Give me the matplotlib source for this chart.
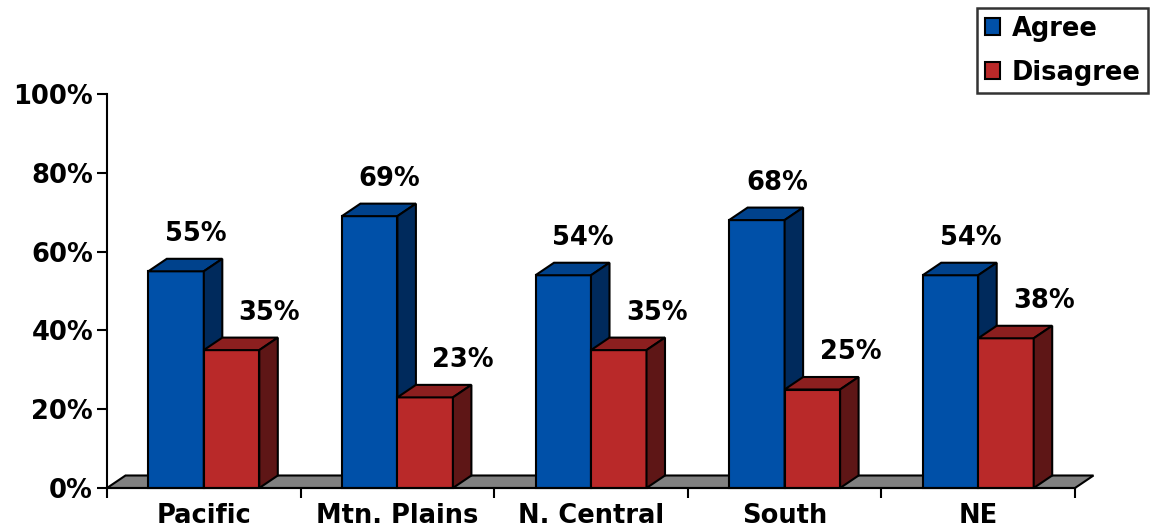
import matplotlib.pyplot as plt
from matplotlib.patches import Polygon, Patch

regions = ["Pacific", "Mtn. Plains", "N. Central", "South", "NE"]
agree = [55, 69, 54, 68, 54]
disagree = [35, 23, 35, 25, 38]
series_names = ["Agree", "Disagree"]
y_ticks = [0, 20, 40, 60, 80, 100]

# front, top, side colours for each series
COLORS = {
    "Agree": ("#0050a8", "#00428c", "#002a5c"),
    "Disagree": ("#b92929", "#8c1f1f", "#5e1616"),
}

W, H = 1151, 531
fig = plt.figure(figsize=(W / 100, H / 100), dpi=100)
ax = fig.add_axes([107 / W, (531 - 488) / H, (1075 - 107) / W, (488 - 94) / H])
ax.set_xlim(-0.5, len(regions) - 0.5)
ax.set_ylim(0, 100)

# 3d depth offset, converted from pixels to data units
px_x = (len(regions)) / (1075 - 107)
px_y = 100 / (488 - 94)
dx, dy = 18.5 * px_x, 12.5 * px_y
bw = 55.5 * px_x

font = dict(fontsize=18.5, fontweight="bold", family="DejaVu Sans")


def box(x0, x1, h, front, top, side):
    kw = dict(edgecolor="black", linewidth=1.5, clip_on=False, joinstyle="miter")
    ax.add_patch(Polygon([(x0, 0), (x1, 0), (x1, h), (x0, h)], facecolor=front, **kw))
    ax.add_patch(Polygon([(x0, h), (x1, h), (x1 + dx, h + dy), (x0 + dx, h + dy)],
                         facecolor=top, **kw))
    ax.add_patch(Polygon([(x1, 0), (x1 + dx, dy), (x1 + dx, h + dy), (x1, h)],
                         facecolor=side, **kw))


# floor
x_lo, x_hi = -0.5, len(regions) - 0.5
ax.add_patch(Polygon([(x_lo, 0), (x_hi, 0), (x_hi + dx, dy), (x_lo + dx, dy)],
                     facecolor="#808080", edgecolor="black", linewidth=1.5,
                     clip_on=False, zorder=0.5))

for i, (a, d) in enumerate(zip(agree, disagree)):
    box(i - bw, i, a, *COLORS["Agree"])
    box(i, i + bw, d, *COLORS["Disagree"])
    ax.text(i - bw / 2 + 20 * px_x, a + dy + 25 * px_y, f"{a}%", ha="center", va="center", **font)
    ax.text(i + bw / 2 + 38 * px_x, d + dy + 25 * px_y, f"{d}%", ha="center", va="center", **font)

for s in ["top", "right"]:
    ax.spines[s].set_visible(False)
ax.spines["left"].set_linewidth(1.5)
ax.spines["bottom"].set_linewidth(1.5)

ax.set_yticks(y_ticks)
ax.set_yticklabels([f"{t}%" for t in y_ticks], **font)
ax.tick_params(axis="y", length=7, width=1.5, pad=3)

ax.set_xticks([i + 0.5 for i in range(-1, len(regions))], minor=False)
ax.set_xticklabels([])
ax.tick_params(axis="x", length=7, width=1.5)
ax.set_xticks(range(len(regions)), minor=True)
ax.set_xticklabels(regions, minor=True, **font)
ax.tick_params(axis="x", which="minor", length=0, pad=11)

handles = [Patch(facecolor=COLORS[n][0], edgecolor="black", linewidth=1.5) for n in series_names]
leg = fig.legend(handles, series_names, loc="upper left", bbox_to_anchor=(977 / W, 1 - 8 / H),
                 frameon=True, fancybox=False, edgecolor="black", handlelength=0.6,
                 handleheight=0.6, handletextpad=0.45, borderpad=0.3, labelspacing=0.7,
                 borderaxespad=0, prop=dict(size=18.5, weight="bold", family="DejaVu Sans"))
leg.get_frame().set_linewidth(1.8)

fig.savefig("out.png", dpi=100)
